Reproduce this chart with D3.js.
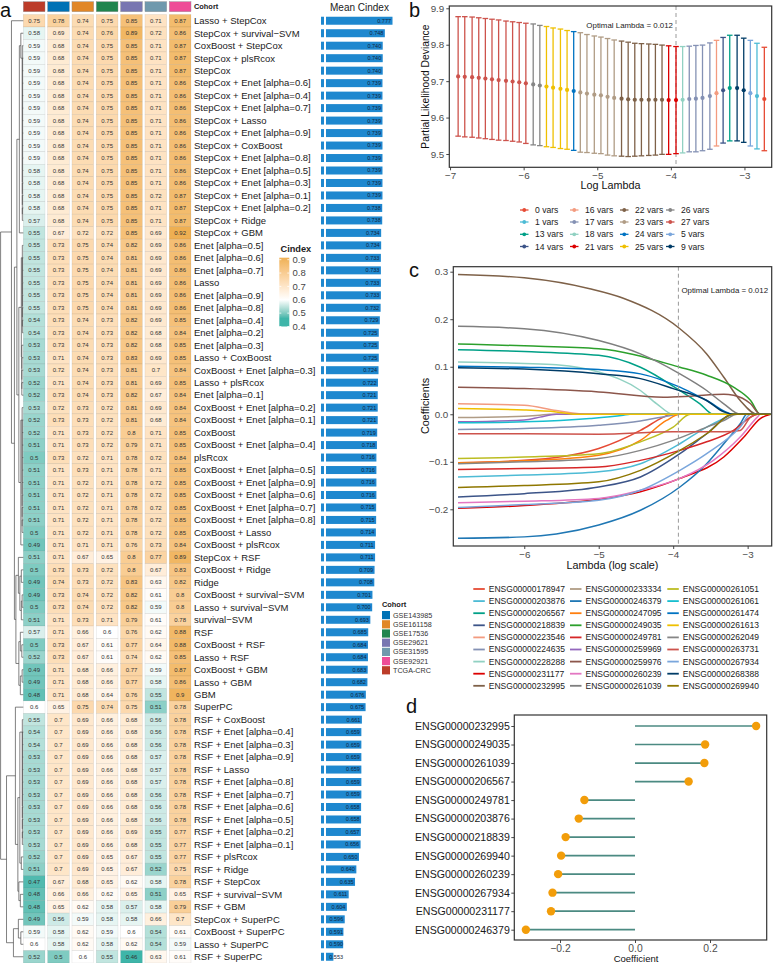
<!DOCTYPE html>
<html><head><meta charset="utf-8">
<script src="https://cdn.jsdelivr.net/npm/d3@7"></script>
<style>
body{margin:0;background:#fff;}
svg{display:block;font-family:"Liberation Sans",Arial,Helvetica,sans-serif;}
</style></head><body>
<svg id="fig" width="774" height="963"></svg>
<script>
// ---------------- DATA ----------------
const cohorts = ["TCGA-CRC","GSE143985","GSE161158","GSE17536","GSE29621","GSE31595","GSE92921"];
const cohortColors = ["#BC3C29","#0072B5","#E18727","#20854E","#7876B1","#6F99AD","#EE4C97"];

const models = [
"Lasso + StepCox","StepCox + survival−SVM","CoxBoost + StepCox","StepCox + plsRcox","StepCox",
"StepCox + Enet [alpha=0.6]","StepCox + Enet [alpha=0.4]","StepCox + Enet [alpha=0.7]","StepCox + Lasso","StepCox + Enet [alpha=0.9]",
"StepCox + CoxBoost","StepCox + Enet [alpha=0.8]","StepCox + Enet [alpha=0.5]","StepCox + Enet [alpha=0.3]","StepCox + Enet [alpha=0.1]",
"StepCox + Enet [alpha=0.2]","StepCox + Ridge","StepCox + GBM","Enet [alpha=0.5]","Enet [alpha=0.6]",
"Enet [alpha=0.7]","Lasso","Enet [alpha=0.9]","Enet [alpha=0.8]","Enet [alpha=0.4]",
"Enet [alpha=0.2]","Enet [alpha=0.3]","Lasso + CoxBoost","CoxBoost + Enet [alpha=0.3]","Lasso + plsRcox",
"Enet [alpha=0.1]","CoxBoost + Enet [alpha=0.2]","CoxBoost + Enet [alpha=0.1]","CoxBoost","CoxBoost + Enet [alpha=0.4]",
"plsRcox","CoxBoost + Enet [alpha=0.5]","CoxBoost + Enet [alpha=0.9]","CoxBoost + Enet [alpha=0.6]","CoxBoost + Enet [alpha=0.7]",
"CoxBoost + Enet [alpha=0.8]","CoxBoost + Lasso","CoxBoost + plsRcox","StepCox + RSF","CoxBoost + Ridge",
"Ridge","CoxBoost + survival−SVM","Lasso + survival−SVM","survival−SVM","RSF",
"CoxBoost + RSF","Lasso + RSF","CoxBoost + GBM","Lasso + GBM","GBM",
"SuperPC","RSF + CoxBoost","RSF + Enet [alpha=0.4]","RSF + Enet [alpha=0.3]","RSF + Enet [alpha=0.9]",
"RSF + Lasso","RSF + Enet [alpha=0.8]","RSF + Enet [alpha=0.7]","RSF + Enet [alpha=0.6]","RSF + Enet [alpha=0.5]",
"RSF + Enet [alpha=0.2]","RSF + Enet [alpha=0.1]","RSF + plsRcox","RSF + Ridge","RSF + StepCox",
"RSF + survival−SVM","RSF + GBM","StepCox + SuperPC","CoxBoost + SuperPC","Lasso + SuperPC",
"RSF + SuperPC"];

const cindex = [
[0.75,0.78,0.74,0.75,0.85,0.71,0.87],[0.58,0.69,0.74,0.76,0.89,0.72,0.86],[0.59,0.68,0.74,0.75,0.85,0.71,0.87],[0.59,0.68,0.74,0.75,0.85,0.71,0.87],[0.59,0.68,0.74,0.75,0.85,0.71,0.87],
[0.59,0.68,0.74,0.75,0.85,0.71,0.86],[0.59,0.68,0.74,0.75,0.85,0.71,0.86],[0.59,0.68,0.74,0.75,0.85,0.71,0.86],[0.59,0.68,0.74,0.75,0.85,0.71,0.86],[0.59,0.68,0.74,0.75,0.85,0.71,0.86],
[0.59,0.68,0.74,0.75,0.85,0.71,0.86],[0.59,0.68,0.74,0.75,0.85,0.71,0.86],[0.58,0.68,0.74,0.75,0.85,0.71,0.86],[0.58,0.68,0.74,0.75,0.85,0.71,0.86],[0.58,0.68,0.74,0.75,0.85,0.72,0.87],
[0.58,0.68,0.74,0.75,0.85,0.71,0.87],[0.57,0.68,0.74,0.75,0.85,0.71,0.87],[0.55,0.67,0.72,0.72,0.85,0.69,0.92],[0.55,0.73,0.75,0.74,0.82,0.69,0.86],[0.55,0.73,0.75,0.74,0.81,0.69,0.86],
[0.55,0.73,0.75,0.74,0.81,0.69,0.86],[0.55,0.73,0.75,0.74,0.81,0.69,0.86],[0.55,0.73,0.75,0.74,0.81,0.69,0.86],[0.55,0.73,0.75,0.74,0.81,0.69,0.86],[0.54,0.73,0.74,0.73,0.82,0.69,0.85],
[0.54,0.73,0.74,0.73,0.82,0.68,0.84],[0.53,0.73,0.74,0.73,0.82,0.68,0.85],[0.53,0.71,0.74,0.73,0.83,0.69,0.85],[0.53,0.72,0.74,0.73,0.81,0.7,0.84],[0.52,0.71,0.74,0.73,0.81,0.69,0.85],
[0.52,0.73,0.74,0.73,0.82,0.67,0.84],[0.53,0.72,0.73,0.72,0.81,0.69,0.84],[0.52,0.73,0.73,0.72,0.81,0.68,0.84],[0.52,0.71,0.73,0.72,0.8,0.71,0.85],[0.51,0.71,0.73,0.72,0.79,0.71,0.85],
[0.5,0.73,0.72,0.71,0.78,0.72,0.84],[0.51,0.71,0.73,0.71,0.78,0.71,0.85],[0.51,0.71,0.72,0.71,0.78,0.72,0.85],[0.51,0.71,0.72,0.71,0.78,0.72,0.85],[0.51,0.71,0.72,0.71,0.78,0.72,0.85],
[0.51,0.71,0.72,0.71,0.78,0.72,0.85],[0.5,0.71,0.72,0.71,0.78,0.72,0.85],[0.49,0.71,0.71,0.71,0.76,0.73,0.84],[0.51,0.71,0.67,0.65,0.8,0.77,0.89],[0.5,0.73,0.73,0.72,0.8,0.67,0.83],
[0.49,0.74,0.73,0.72,0.83,0.63,0.82],[0.49,0.73,0.74,0.72,0.82,0.61,0.8],[0.5,0.73,0.74,0.72,0.82,0.59,0.8],[0.51,0.71,0.73,0.71,0.79,0.61,0.78],[0.57,0.71,0.66,0.6,0.76,0.62,0.88],
[0.5,0.73,0.67,0.61,0.77,0.64,0.88],[0.52,0.73,0.67,0.61,0.74,0.62,0.85],[0.49,0.71,0.68,0.66,0.77,0.59,0.87],[0.49,0.71,0.68,0.66,0.77,0.58,0.86],[0.48,0.71,0.68,0.64,0.76,0.55,0.9],
[0.6,0.65,0.75,0.74,0.75,0.51,0.78],[0.55,0.7,0.69,0.66,0.68,0.56,0.78],[0.54,0.7,0.69,0.66,0.68,0.56,0.78],[0.54,0.7,0.69,0.66,0.68,0.56,0.78],[0.53,0.7,0.69,0.66,0.68,0.57,0.78],
[0.53,0.7,0.69,0.66,0.68,0.57,0.78],[0.53,0.7,0.69,0.66,0.68,0.57,0.78],[0.53,0.7,0.69,0.66,0.68,0.56,0.78],[0.53,0.7,0.69,0.66,0.68,0.56,0.78],[0.53,0.7,0.69,0.66,0.68,0.56,0.78],
[0.53,0.7,0.69,0.66,0.69,0.55,0.77],[0.53,0.7,0.69,0.66,0.68,0.55,0.77],[0.52,0.7,0.69,0.65,0.67,0.55,0.77],[0.51,0.7,0.69,0.65,0.67,0.52,0.75],[0.47,0.67,0.68,0.65,0.62,0.58,0.78],
[0.48,0.66,0.66,0.62,0.65,0.51,0.65],[0.48,0.65,0.62,0.58,0.57,0.58,0.79],[0.49,0.56,0.59,0.58,0.58,0.66,0.7],[0.59,0.58,0.62,0.59,0.6,0.54,0.61],[0.6,0.58,0.62,0.58,0.62,0.54,0.59],
[0.52,0.5,0.6,0.55,0.46,0.63,0.61]];

const meanCindex = [
0.777,0.748,0.740,0.740,0.740,0.739,0.739,0.739,0.739,0.739,
0.739,0.739,0.739,0.739,0.739,0.738,0.738,0.734,0.734,0.733,
0.733,0.733,0.733,0.732,0.729,0.725,0.725,0.725,0.724,0.722,
0.721,0.721,0.721,0.719,0.718,0.716,0.716,0.716,0.716,0.715,
0.715,0.714,0.711,0.711,0.709,0.708,0.701,0.700,0.693,0.685,
0.684,0.684,0.683,0.682,0.676,0.675,0.661,0.659,0.659,0.659,
0.659,0.659,0.659,0.658,0.658,0.657,0.656,0.650,0.640,0.635,
0.611,0.604,0.596,0.591,0.590,0.553];

const cindexTicks = [0.4,0.5,0.6,0.7,0.8,0.9];

// dendrogram structure: [mergeHeight, left, right]; leaves = row index
function chain(h, from, to){ let n = to; for(let i = to-1; i >= from; i--) n = [h, i, n]; return n; }
const dendroTree = [23,
  [12, 0,
    [9,
      [6.5,
        [4, [2.5, 1, chain(1, 2, 16)], 17],
        [4.5,
          [2, chain(1, 18, 25), chain(1.5, 26, 30)],
          [2.5, chain(1.2, 31, 41), 42]]],
      [7.5,
        [5, 43, [3.5, [2, 44, 45], [2, [1.2, 46, 47], 48]]],
        [4.5, [3, 49, [1.5, 50, 51]], [3, [1.2, 52, 53], 54]]]]],
  [17,
    [8, 55, [5.5, [3.5, chain(1, 56, 66), [2, 67, 68]], [4.5, 69, [3, 70, 71]]]],
    [10, [5, 72, [2.5, 73, 74]], 75]]];

// panel b : cross-validation
const logLambda = [-6.89,-6.80,-6.70,-6.61,-6.52,-6.43,-6.34,-6.24,-6.15,-6.06,
-5.97,-5.87,-5.78,-5.69,-5.60,-5.50,-5.41,-5.32,-5.23,-5.14,
-5.04,-4.95,-4.86,-4.77,-4.67,-4.58,-4.49,-4.40,-4.30,-4.21,
-4.12,-4.03,-3.93,-3.84,-3.75,-3.66,-3.57,-3.47,-3.38,-3.29,
-3.20,-3.10,-3.01,-2.92,-2.83,-2.73];
const cvm = [9.713,9.712,9.711,9.709,9.707,9.705,9.703,9.701,9.699,9.697,
9.694,9.691,9.688,9.685,9.682,9.679,9.676,9.673,9.669,9.666,
9.663,9.661,9.657,9.654,9.652,9.650,9.649,9.649,9.649,9.649,
9.649,9.648,9.648,9.649,9.651,9.652,9.654,9.659,9.667,9.675,
9.681,9.681,9.675,9.667,9.659,9.651];
const cvsd = [0.164,0.165,0.165,0.165,0.165,0.165,0.165,0.164,0.164,0.164,
0.165,0.166,0.165,0.165,0.164,0.164,0.163,0.163,0.164,0.162,
0.161,0.160,0.160,0.159,0.158,0.157,0.155,0.154,0.153,0.152,
0.150,0.149,0.147,0.146,0.145,0.146,0.145,0.146,0.145,0.145,
0.145,0.145,0.143,0.145,0.145,0.142];
const nzero = [27,27,27,27,27,27,27,27,27,27,
27,26,26,25,25,25,25,24,23,23,
23,23,23,23,22,22,22,22,22,22,
22,21,21,18,17,17,17,17,16,14,
13,9,9,5,1,0];
const varsLevels = ["0 vars","1 vars","13 vars","14 vars","16 vars","17 vars","18 vars","21 vars","22 vars","23 vars","24 vars","25 vars","26 vars","27 vars","5 vars","9 vars"];
const varsColors = ["#E64B35","#4DBBD5","#00A087","#3C5488","#F39B7F","#8491B4","#91D1C2","#DC0000","#7E6148","#B09C85","#0073C2","#EFC000","#868686","#CD534C","#7AA6DC","#003C67"];
const optLogLambda = -3.93;

// panel c : coefficient paths [logLambda, coefficient]
const genes = ["ENSG00000178947","ENSG00000203876","ENSG00000206567","ENSG00000218839","ENSG00000223546","ENSG00000224635","ENSG00000228288","ENSG00000231177","ENSG00000232995",
"ENSG00000233334","ENSG00000246379","ENSG00000247095","ENSG00000249035","ENSG00000249781","ENSG00000259969","ENSG00000259976","ENSG00000260239","ENSG00000261039",
"ENSG00000261051","ENSG00000261061","ENSG00000261474","ENSG00000261613","ENSG00000262049","ENSG00000263731","ENSG00000267934","ENSG00000268388","ENSG00000269940"];
const geneColors = ["#E64B35","#4DBBD5","#00A087","#3C5488","#F39B7F","#8491B4","#91D1C2","#DC0000","#7E6148",
"#B09C85","#1F77B4","#FF7F0E","#2CA02C","#D62728","#9467BD","#8C564B","#E377C2","#7F7F7F",
"#BCBD22","#17BECF","#0073C2","#EFC000","#868686","#CD534C","#7AA6DC","#003C67","#8F7700"];
const coefPaths = [
[[-6.89,-0.102],[-6,-0.097],[-5,-0.072],[-4.44,-0.034],[-4.13,-0.006],[-4.04,0],[-2.69,0]],
[[-6.89,-0.132],[-6,-0.128],[-5,-0.121],[-4.44,-0.104],[-3.91,-0.062],[-3.55,-0.027],[-3.32,-0.009],[-3.19,0],[-2.69,0]],
[[-6.89,0.136],[-6,0.132],[-5,0.124],[-4.44,0.099],[-3.91,0.05],[-3.64,0.022],[-3.46,0],[-2.69,0]],
[[-6.89,-0.174],[-6,-0.167],[-5,-0.153],[-4.44,-0.132],[-3.91,-0.083],[-3.55,-0.041],[-3.19,0],[-2.69,0]],
[[-6.89,0.022],[-6,0.019],[-5.57,0.008],[-5.12,0],[-2.69,0]],
[[-6.89,-0.032],[-6,-0.030],[-5,-0.023],[-4.44,-0.014],[-4.09,-0.004],[-3.91,0],[-2.69,0]],
[[-6.89,0.110],[-6,0.107],[-5.57,0.104],[-5,0.089],[-4.44,0.05],[-4.22,0.022],[-4.0,0],[-2.69,0]],
[[-6.89,-0.198],[-6,-0.192],[-5,-0.179],[-4.44,-0.163],[-3.91,-0.135],[-3.32,-0.09],[-3.05,-0.048],[-2.83,-0.009],[-2.69,0]],
[[-6.89,0.294],[-6,0.287],[-5.12,0.264],[-4.67,0.244],[-3.91,0.18],[-3.55,0.127],[-3.32,0.078],[-3.10,0.029],[-2.87,0],[-2.69,0]],
[[-6.89,-0.007],[-6,-0.004],[-5.79,-0.002],[-5.66,0],[-2.69,0]],
[[-6.89,-0.261],[-6,-0.258],[-5.57,-0.252],[-5,-0.233],[-4.44,-0.202],[-3.91,-0.153],[-3.55,-0.104],[-3.32,-0.062],[-3.10,-0.02],[-3.01,0],[-2.69,0]],
[[-6.89,-0.102],[-6,-0.098],[-5,-0.086],[-4.44,-0.055],[-4.09,-0.013],[-3.91,0],[-2.69,0]],
[[-6.89,0.148],[-6,0.144],[-5,0.138],[-3.91,0.099],[-3.55,0.082],[-3.19,0.057],[-2.96,0.029],[-2.83,0],[-2.69,0]],
[[-6.89,-0.116],[-6,-0.114],[-5,-0.111],[-4.44,-0.097],[-3.91,-0.076],[-3.55,-0.058],[-3.19,-0.034],[-2.96,-0.006],[-2.87,0],[-2.69,0]],
[[-6.89,-0.016],[-6,-0.012],[-5.79,-0.006],[-5.57,0],[-2.69,0]],
[[-6.89,0.057],[-6,0.054],[-5,0.047],[-4.13,0.036],[-3.77,0.038],[-3.32,0.042],[-3.19,0.04],[-2.96,0.022],[-2.83,0],[-2.69,0]],
[[-6.89,-0.186],[-6,-0.183],[-5,-0.177],[-4.44,-0.160],[-3.91,-0.135],[-3.46,-0.097],[-3.10,-0.048],[-2.87,-0.006],[-2.83,0],[-2.69,0]],
[[-6.89,0.185],[-6,0.180],[-5,0.155],[-4.44,0.127],[-3.91,0.085],[-3.55,0.05],[-3.32,0.022],[-3.10,0],[-2.69,0]],
[[-6.89,-0.093],[-6,-0.090],[-5,-0.083],[-4.44,-0.058],[-4.0,-0.027],[-3.77,0],[-2.69,0]],
[[-6.89,-0.018],[-6,-0.016],[-5.12,-0.009],[-4.67,-0.002],[-4.58,0],[-2.69,0]],
[[-6.89,0.101],[-6,0.099],[-5,0.094],[-4.44,0.085],[-3.91,0.057],[-3.55,0.029],[-3.19,0],[-2.69,0]],
[[-6.89,0.012],[-6,0.009],[-5.57,0.005],[-5.30,0],[-2.69,0]],
[[-6.89,-0.104],[-6,-0.100],[-5,-0.093],[-4.44,-0.076],[-4.0,-0.055],[-3.55,-0.027],[-3.32,-0.013],[-3.14,0],[-2.69,0]],
[[-6.89,-0.041],[-6,-0.041],[-5,-0.042],[-4.0,-0.037],[-3.32,-0.037],[-3.10,-0.034],[-2.96,-0.006],[-2.87,0],[-2.69,0]],
[[-6.89,-0.196],[-6,-0.190],[-5,-0.181],[-4.44,-0.160],[-3.91,-0.118],[-3.55,-0.083],[-3.10,-0.027],[-2.96,0],[-2.69,0]],
[[-6.89,0.098],[-6,0.095],[-5,0.085],[-4.44,0.075],[-4.0,0.054],[-3.55,0.029],[-3.32,0.005],[-3.19,0],[-2.69,0]],
[[-6.89,-0.154],[-6,-0.150],[-5,-0.142],[-4.44,-0.118],[-3.91,-0.076],[-3.55,-0.041],[-3.19,0],[-2.69,0]]];

// panel d : final coefficients
const dGenes = ["ENSG00000232995","ENSG00000249035","ENSG00000261039","ENSG00000206567","ENSG00000249781","ENSG00000203876","ENSG00000218839","ENSG00000269940","ENSG00000260239","ENSG00000267934","ENSG00000231177","ENSG00000246379"];
const dCoef = [0.323,0.187,0.185,0.143,-0.135,-0.150,-0.185,-0.197,-0.205,-0.220,-0.224,-0.291];

// ---------------- DRAW ----------------
const FONT = '"Liberation Sans", Arial, Helvetica, sans-serif';
const svg = d3.select("#fig");
const fmtMinus = d3.format(".1f");

function styleAxis(g, fs, col){
  g.attr("font-family", FONT).attr("font-size", null);
  g.select(".domain").remove();
  g.selectAll(".tick line").attr("stroke", "#333").attr("stroke-width", 0.9);
  g.selectAll(".tick text").attr("fill", col || "#4d4d4d").style("font-size", fs + "px");
}

// panel letters
const letters = [["a",0,16.5],["b",409,16.5],["c",409,277],["d",406,713]];
svg.selectAll("text.letter").data(letters).join("text").attr("class","letter")
  .attr("x", d => d[1]).attr("y", d => d[2]).text(d => d[0])
  .style("font-size","20px").attr("fill","#111");

// ===== panel a =====
const rows = d3.range(models.length);
const xCol = d3.scaleBand().domain(cohorts).range([23.3, 191.0]).paddingInner(0.108);
const yRow = d3.scaleBand().domain(rows).range([14.5, 963]);
const heat = d3.scaleLinear().domain([0.46, 0.6, 0.93]).range(["#3EB5A9", "#ffffff", "#EDAD4C"]).interpolate(d3.interpolateLab).clamp(true);
const bw = yRow.bandwidth();

const gA = svg.append("g");
// cohort header
gA.selectAll("rect.hdr").data(cohorts).join("rect").attr("class","hdr")
  .attr("x", d => xCol(d)).attr("y", 1.7).attr("width", xCol.bandwidth()).attr("height", 10)
  .attr("fill", (d,i) => cohortColors[i]).attr("stroke", "#8a8a8a").attr("stroke-width", 0.4);
gA.append("text").attr("x", 194).attr("y", 9.3).text("Cohort")
  .style("font-size","7.4px").style("font-weight","bold").attr("fill","#222");

const cells = [];
rows.forEach(i => cohorts.forEach((c, j) => cells.push({i, c, v: cindex[i][j]})));
gA.selectAll("rect.cell").data(cells).join("rect").attr("class","cell")
  .attr("x", d => xCol(d.c)).attr("y", d => yRow(d.i)).attr("width", xCol.bandwidth()).attr("height", bw)
  .attr("fill", d => heat(d.v)).attr("stroke", "rgba(0,0,0,0.12)").attr("stroke-width", 0.5);
gA.selectAll("text.cell").data(cells).join("text").attr("class","cell")
  .attr("x", d => xCol(d.c) + xCol.bandwidth()/2).attr("y", d => yRow(d.i) + bw/2).attr("dy","0.35em")
  .attr("text-anchor","middle").text(d => String(d.v)).style("font-size","6px").attr("fill","#333");

// row names
gA.selectAll("text.rn").data(rows).join("text").attr("class","rn")
  .attr("x", 194).attr("y", i => yRow(i) + bw/2).attr("dy","0.35em")
  .text(i => models[i]).style("font-size","9.5px").attr("fill","#1a1a1a");

// dendrogram
const xDen = d3.scaleLinear().domain([0, 23]).range([23.3, 0.6]);
const segs = [];
function lay(node){
  if (typeof node === "number") return {x: xDen(0), y: yRow(node) + bw/2};
  const A = lay(node[1]), B = lay(node[2]);
  const x = xDen(node[0]);
  segs.push([x, A.y, x, B.y], [x, A.y, A.x, A.y], [x, B.y, B.x, B.y]);
  return {x, y: (A.y + B.y)/2};
}
lay(dendroTree);
gA.selectAll("line.den").data(segs).join("line").attr("class","den")
  .attr("x1", d => d[0]).attr("y1", d => d[1]).attr("x2", d => d[2]).attr("y2", d => d[3])
  .attr("stroke", "#4a4a4a").attr("stroke-width", 0.7);

// mean Cindex bars
const xBar = d3.scaleLinear().domain([0.525, 0.777]).range([326, 392.5]);
gA.append("text").attr("x", 330).attr("y", 11).text("Mean Cindex").style("font-size","10px").attr("fill","#222");
gA.selectAll("rect.stub").data(rows).join("rect").attr("class","stub")
  .attr("x", 321).attr("y", i => yRow(i) + bw/2 - 4).attr("width", 3).attr("height", 8).attr("fill", "#1E88CF");
gA.selectAll("rect.bar").data(rows).join("rect").attr("class","bar")
  .attr("x", xBar(0.525)).attr("y", i => yRow(i) + bw/2 - 4)
  .attr("width", i => xBar(meanCindex[i]) - xBar(0.525)).attr("height", 8).attr("fill", "#1E88CF");
gA.selectAll("text.bar").data(rows).join("text").attr("class","bar")
  .attr("x", i => Math.max(xBar(meanCindex[i]) - 1.5, xBar(0.525) + 17)).attr("y", i => yRow(i) + bw/2).attr("dy","0.35em")
  .attr("text-anchor","end").text(i => d3.format(".3f")(meanCindex[i])).style("font-size","5.5px").attr("fill","#10263d");

// Cindex legend
const defs = svg.append("defs");
const grad = defs.append("linearGradient").attr("id","cgrad").attr("x1",0).attr("y1",1).attr("x2",0).attr("y2",0);
const gStops = d3.range(0.40, 0.916, 0.01);
grad.selectAll("stop").data(gStops).join("stop")
  .attr("offset", d => (d - 0.40)/(0.915 - 0.40)).attr("stop-color", d => heat(d));
const yLeg = d3.scaleLinear().domain([0.4, 0.9]).range([326.5, 259.7]);
gA.append("text").attr("x", 280.5).attr("y", 252).text("Cindex").style("font-size","9.2px").style("font-weight","bold").attr("fill","#222");
gA.append("rect").attr("x", 279.3).attr("y", yLeg(0.915)).attr("width", 10).attr("height", yLeg(0.40) - yLeg(0.915)).attr("fill","url(#cgrad)");
gA.selectAll("line.lt").data(cindexTicks).join("line").attr("class","lt")
  .attr("x1", 279.3).attr("x2", 281.3).attr("y1", d => yLeg(d)).attr("y2", d => yLeg(d)).attr("stroke","#fff").attr("stroke-width",0.8);
gA.selectAll("line.rt").data(cindexTicks).join("line").attr("class","rt")
  .attr("x1", 287.3).attr("x2", 289.3).attr("y1", d => yLeg(d)).attr("y2", d => yLeg(d)).attr("stroke","#fff").attr("stroke-width",0.8);
gA.selectAll("text.lt").data(cindexTicks).join("text").attr("class","lt")
  .attr("x", 292.5).attr("y", d => yLeg(d)).attr("dy","0.35em").text(d => String(d))
  .style("font-size","9.5px").attr("fill","#444");

// Cohort legend
const cohortSorted = cohorts.map((c, i) => ({c, col: cohortColors[i]})).sort((a, b) => d3.ascending(a.c, b.c));
gA.append("text").attr("x", 382).attr("y", 606.5).text("Cohort").style("font-size","7.4px").style("font-weight","bold").attr("fill","#222");
gA.selectAll("rect.ck").data(cohortSorted).join("rect").attr("class","ck")
  .attr("x", 382).attr("y", (d, i) => 611 + i*9.2).attr("width", 8).attr("height", 8.2).attr("fill", d => d.col);
gA.selectAll("text.ck").data(cohortSorted).join("text").attr("class","ck")
  .attr("x", 393).attr("y", (d, i) => 615.1 + i*9.2).attr("dy","0.35em").text(d => d.c)
  .style("font-size","7.2px").attr("fill","#333");

// ===== panel b =====
const gB = svg.append("g");
const xB = d3.scaleLinear().domain([-7.01, -2.63]).range([449.3, 771.7]);
const yB = d3.scaleLinear().domain([9.4635, 9.9063]).range([167.3, 6]);
gB.append("line").attr("x1", xB(optLogLambda)).attr("x2", xB(optLogLambda)).attr("y1", yB.range()[1]).attr("y2", yB.range()[0])
  .attr("stroke","#9a9a9a").attr("stroke-width",1).attr("stroke-dasharray","4,3");
gB.append("text").attr("x", xB(optLogLambda) - 3).attr("y", 25.7).attr("dy","0.35em").attr("text-anchor","end")
  .text("Optimal Lambda = 0.012").style("font-size","7.9px").attr("fill","#222");
const cvPts = logLambda.map((l, i) => ({l, m: cvm[i], s: cvsd[i], col: varsColors[varsLevels.indexOf(nzero[i] + " vars")]}));
const eb = gB.selectAll("g.eb").data(cvPts).join("g").attr("class","eb");
eb.append("line").attr("x1", d => xB(d.l)).attr("x2", d => xB(d.l)).attr("y1", d => yB(d.m - d.s)).attr("y2", d => yB(d.m + d.s))
  .attr("stroke", d => d.col).attr("stroke-width", 1.3);
eb.append("line").attr("x1", d => xB(d.l) - 2.8).attr("x2", d => xB(d.l) + 2.8).attr("y1", d => yB(d.m + d.s)).attr("y2", d => yB(d.m + d.s))
  .attr("stroke", d => d.col).attr("stroke-width", 1.3);
eb.append("line").attr("x1", d => xB(d.l) - 2.8).attr("x2", d => xB(d.l) + 2.8).attr("y1", d => yB(d.m - d.s)).attr("y2", d => yB(d.m - d.s))
  .attr("stroke", d => d.col).attr("stroke-width", 1.3);
eb.append("circle").attr("cx", d => xB(d.l)).attr("cy", d => yB(d.m)).attr("r", 2.1).attr("fill", d => d.col);
gB.append("rect").attr("x", 449.3).attr("y", 6).attr("width", 771.7 - 449.3).attr("height", 167.3 - 6)
  .attr("fill","none").attr("stroke","#333").attr("stroke-width",1.2);
const axBx = gB.append("g").attr("transform","translate(0,167.3)")
  .call(d3.axisBottom(xB).tickValues([-7,-6,-5,-4,-3]).tickFormat(d3.format("d")).tickSize(3).tickPadding(2));
styleAxis(axBx, 9.8);
const axBy = gB.append("g").attr("transform","translate(449.3,0)")
  .call(d3.axisLeft(yB).tickValues([9.5,9.6,9.7,9.8,9.9]).tickFormat(d3.format(".1f")).tickSize(3).tickPadding(2));
styleAxis(axBy, 9.8);
gB.append("text").attr("x", 610.5).attr("y", 189).attr("text-anchor","middle").text("Log Lambda")
  .style("font-size","10.8px").attr("fill","#111");
gB.append("text").attr("transform","translate(429,86.6) rotate(-90)").attr("text-anchor","middle")
  .text("Partial Likelihood Deviance").style("font-size","10.3px").attr("fill","#111");
// legend b
const legBColX = [520, 570, 620, 666];
const legBRowY = [210, 222, 234.3, 246.5];
const legB = gB.selectAll("g.lb").data(varsLevels).join("g").attr("class","lb")
  .attr("transform", (d, i) => `translate(${legBColX[Math.floor(i/4)]},${legBRowY[i%4]})`);
legB.append("line").attr("x1",0).attr("x2",8.5).attr("stroke",(d,i) => varsColors[i]).attr("stroke-width",1.3);
legB.append("circle").attr("cx",4.25).attr("r",1.9).attr("fill",(d,i) => varsColors[i]);
legB.append("text").attr("x", 15).attr("dy","0.35em").text(d => d).style("font-size","8.6px").attr("fill","#222");

// ===== panel c =====
const gC = svg.append("g");
const xC = d3.scaleLinear().domain([-6.953, -2.677]).range([453.3, 771.7]);
const yC = d3.scaleLinear().domain([-0.2772, 0.3105]).range([546, 266.7]);
defs.append("clipPath").attr("id","clipC").append("rect").attr("x",453.3).attr("y",266.7).attr("width",771.7-453.3).attr("height",546-266.7);
const lineC = d3.line().x(d => xC(d[0])).y(d => yC(d[1])).curve(d3.curveMonotoneX);
gC.append("g").attr("clip-path","url(#clipC)").selectAll("path").data(coefPaths).join("path")
  .attr("d", lineC).attr("fill","none").attr("stroke",(d,i) => geneColors[i]).attr("stroke-width",1.5);
gC.append("line").attr("x1", xC(optLogLambda)).attr("x2", xC(optLogLambda)).attr("y1", 266.7).attr("y2", 546)
  .attr("stroke","#9a9a9a").attr("stroke-width",1).attr("stroke-dasharray","4,3");
gC.append("text").attr("x", xC(optLogLambda) + 3).attr("y", 290).attr("dy","0.35em")
  .text("Optimal Lambda = 0.012").style("font-size","7.9px").attr("fill","#222");
gC.append("rect").attr("x", 453.3).attr("y", 266.7).attr("width", 771.7 - 453.3).attr("height", 546 - 266.7)
  .attr("fill","none").attr("stroke","#333").attr("stroke-width",1.2);
const axCx = gC.append("g").attr("transform","translate(0,546)")
  .call(d3.axisBottom(xC).tickValues([-6,-5,-4,-3]).tickFormat(d3.format("d")).tickSize(3).tickPadding(2));
styleAxis(axCx, 9.8);
const axCy = gC.append("g").attr("transform","translate(453.3,0)")
  .call(d3.axisLeft(yC).tickValues([-0.2,-0.1,0,0.1,0.2,0.3]).tickFormat(fmtMinus).tickSize(3).tickPadding(2));
styleAxis(axCy, 9.8);
gC.append("text").attr("x", 612.5).attr("y", 568.5).attr("text-anchor","middle").text("Lambda (log scale)")
  .style("font-size","10.8px").attr("fill","#111");
gC.append("text").attr("transform","translate(429,406) rotate(-90)").attr("text-anchor","middle")
  .text("Coefficients").style("font-size","10.8px").attr("fill","#111");
// legend c
const legCColX = [473.3, 570, 667.3];
const legC = gC.selectAll("g.lc").data(genes).join("g").attr("class","lc")
  .attr("transform", (d, i) => `translate(${legCColX[Math.floor(i/9)]},${589 + (i%9)*12.1})`);
legC.append("line").attr("x1",0).attr("x2",11.5).attr("stroke",(d,i) => geneColors[i]).attr("stroke-width",1.8);
legC.append("text").attr("x",15.5).attr("dy","0.35em").text(d => d).style("font-size","8.5px").attr("fill","#222");

// ===== panel d =====
const gD = svg.append("g");
const xD = d3.scaleLinear().domain([-0.3219, 0.3512]).range([514.3, 766.7]);
const yD = d3.scalePoint().domain(dGenes).range([726, 929.7]);
gD.selectAll("line.st").data(dGenes).join("line").attr("class","st")
  .attr("x1", xD(0)).attr("x2", (d, i) => xD(dCoef[i])).attr("y1", d => yD(d)).attr("y2", d => yD(d))
  .attr("stroke","#4B8A82").attr("stroke-width",1.7);
gD.selectAll("circle").data(dGenes).join("circle")
  .attr("cx", (d, i) => xD(dCoef[i])).attr("cy", d => yD(d)).attr("r", 4.2).attr("fill","#F29D0A");
gD.append("rect").attr("x", 514.3).attr("y", 715).attr("width", 766.7 - 514.3).attr("height", 940 - 715)
  .attr("fill","none").attr("stroke","#333").attr("stroke-width",1.2);
const axDx = gD.append("g").attr("transform","translate(0,940)")
  .call(d3.axisBottom(xD).tickValues([-0.2,0,0.2]).tickFormat(fmtMinus).tickSize(3).tickPadding(1.5));
styleAxis(axDx, 10.3);
const axDy = gD.append("g").attr("transform","translate(514.3,0)")
  .call(d3.axisLeft(yD).tickSize(3).tickPadding(1.5));
styleAxis(axDy, 10.6, "#1a1a1a");
gD.append("text").attr("x", 636).attr("y", 961.5).attr("text-anchor","middle").text("Coefficient")
  .style("font-size","9.5px").attr("fill","#111");
</script></body></html>
